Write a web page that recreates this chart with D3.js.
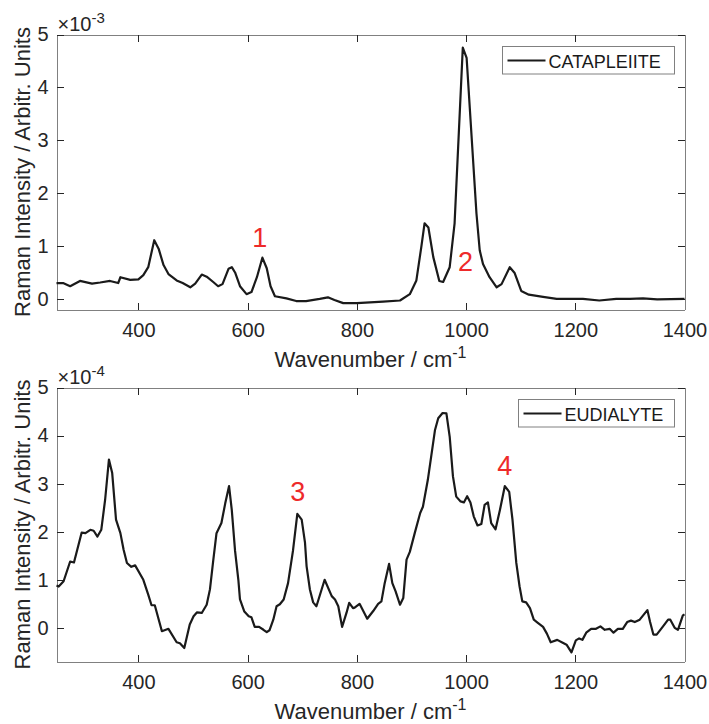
<!DOCTYPE html>
<html>
<head>
<meta charset="utf-8">
<script src="https://cdn.jsdelivr.net/npm/d3@7"></script>
<style>
  body { margin: 0; background: #fff; }
  text { font-family: "Liberation Sans", Arial, sans-serif; }
</style>
</head>
<body>
<div id="chart"></div>
<script>
// wavenumber ticks shared by both panels
var xTicks = [400, 600, 800, 1000, 1200, 1400];
var yTicks = [0, 1, 2, 3, 4, 5];

// CATAPLEIITE spectrum (intensity x 1e-3)
var cataWave = [250, 262, 275, 293, 315, 330, 348, 363, 367, 385, 400, 409, 418, 429, 437, 446, 455, 470, 481, 495,
    504, 516, 525, 537, 546, 554, 565, 571, 577, 586, 598, 607, 617, 627, 635, 642, 650, 671, 689, 707,
    732, 747, 759, 775, 800, 848, 879, 897, 909, 918, 924, 931, 940, 951, 958, 970, 979, 994, 1001, 1019,
    1025, 1031, 1043, 1056, 1065, 1080, 1089, 1101, 1115, 1141, 1166, 1214, 1244, 1275, 1300, 1324, 1350, 1400];
var cataInt = [0.30, 0.30, 0.24, 0.34, 0.29, 0.31, 0.34, 0.30, 0.41, 0.36, 0.37, 0.45, 0.60, 1.11, 0.95, 0.64, 0.47, 0.35, 0.30, 0.22,
    0.29, 0.46, 0.42, 0.32, 0.24, 0.28, 0.57, 0.60, 0.50, 0.24, 0.09, 0.13, 0.41, 0.78, 0.58, 0.24, 0.05, 0.01, -0.04, -0.04,
    0.00, 0.03, -0.02, -0.08, -0.08, -0.05, -0.03, 0.09, 0.35, 0.98, 1.43, 1.35, 0.79, 0.34, 0.32, 0.60, 1.43, 4.75, 4.56, 1.62,
    0.92, 0.66, 0.41, 0.22, 0.28, 0.60, 0.49, 0.15, 0.08, 0.04, 0.00, 0.00, -0.03, 0.00, 0.00, 0.01, -0.01, 0.00];

// EUDIALYTE spectrum (intensity x 1e-4)
var eudiWave = [250, 254, 263, 275, 282, 296, 303, 312, 318, 325, 332, 339, 346, 352, 359, 367, 373, 379, 387, 394,
    409, 418, 424, 430, 443, 455, 470, 476, 484, 494, 501, 507, 516, 525, 531, 537, 543, 552, 559, 566,
    571, 577, 583, 586, 594, 602, 607, 613, 621, 629, 635, 640, 647, 653, 659, 666, 674, 683, 691, 699,
    705, 708, 714, 720, 726, 741, 754, 760, 766, 773, 781, 786, 793, 796, 805, 819, 830, 839, 845, 851,
    859, 865, 871, 879, 885, 891, 897, 906, 916, 921, 930, 943, 949, 957, 964, 970, 976, 982, 990, 996,
    1002, 1008, 1014, 1021, 1028, 1034, 1040, 1046, 1054, 1062, 1071, 1079, 1085, 1092, 1098, 1103, 1110, 1117, 1124, 1132,
    1141, 1148, 1155, 1167, 1177, 1184, 1193, 1201, 1207, 1213, 1220, 1229, 1238, 1246, 1254, 1263, 1270, 1278, 1287, 1295,
    1302, 1309, 1318, 1332, 1337, 1343, 1349, 1360, 1370, 1374, 1382, 1388, 1397, 1400];
var eudiInt = [0.88, 0.86, 0.97, 1.38, 1.36, 1.98, 1.97, 2.04, 2.02, 1.90, 2.04, 2.66, 3.50, 3.22, 2.25, 1.97, 1.62, 1.35, 1.27, 1.30,
    1.00, 0.69, 0.47, 0.47, -0.07, -0.02, -0.30, -0.32, -0.42, 0.07, 0.24, 0.32, 0.31, 0.48, 0.80, 1.40, 1.97, 2.18, 2.59, 2.95,
    2.45, 1.60, 1.00, 0.59, 0.34, 0.24, 0.22, 0.02, 0.02, -0.04, -0.09, -0.05, 0.17, 0.45, 0.49, 0.59, 0.93, 1.60, 2.37, 2.25,
    1.78, 1.28, 0.80, 0.53, 0.45, 1.00, 0.66, 0.59, 0.45, 0.02, 0.31, 0.52, 0.41, 0.42, 0.50, 0.19, 0.35, 0.50, 0.55, 0.93,
    1.33, 0.93, 0.76, 0.48, 0.62, 1.42, 1.58, 1.97, 2.39, 2.52, 3.08, 4.11, 4.36, 4.47, 4.46, 3.98, 3.15, 2.73, 2.63, 2.61,
    2.74, 2.61, 2.32, 2.13, 2.16, 2.56, 2.61, 2.18, 2.05, 2.45, 2.95, 2.83, 2.25, 1.35, 0.86, 0.55, 0.53, 0.41, 0.17, 0.10,
    0.02, -0.12, -0.30, -0.25, -0.31, -0.35, -0.51, -0.26, -0.22, -0.25, -0.10, -0.02, -0.02, 0.03, -0.04, -0.02, -0.10, -0.02, -0.02, 0.12,
    0.15, 0.12, 0.17, 0.37, 0.12, -0.14, -0.14, 0.02, 0.17, 0.17, 0.00, -0.04, 0.26, 0.28];

// peak numbers: [wavenumber, intensity at baseline, label]
var cataPeaks = [[622, 0.98, "1"], [999, 0.53, "2"]];
var eudiPeaks = [[692, 2.63, "3"], [1071, 3.19, "4"]];

var width = 709, height = 724;
var svg = d3.select("#chart").append("svg")
    .attr("width", width)
    .attr("height", height);

var left = 56.5, right = 684.5;
var axisColor = "#262626", boxColor = "#808080";

function drawPanel(top, bottom, wave, inten, yMin, expo, name, legendW, peaks) {
    var x = d3.scaleLinear().domain([250, 1400]).range([left, right]);
    var y = d3.scaleLinear().domain([yMin, 5]).range([bottom, top]);
    var g = svg.append("g");

    g.append("g").attr("transform", "translate(0," + bottom + ")")
        .call(d3.axisBottom(x).tickValues(xTicks).tickFormat(d3.format("d"))
            .tickSizeInner(-7).tickSizeOuter(0).tickPadding(13));
    g.append("g").attr("transform", "translate(0," + top + ")")
        .call(d3.axisTop(x).tickValues(xTicks).tickSizeInner(-7).tickSizeOuter(0).tickFormat(""));
    g.append("g").attr("transform", "translate(" + left + ",0)")
        .call(d3.axisLeft(y).tickValues(yTicks).tickFormat(d3.format("d"))
            .tickSizeInner(-7).tickSizeOuter(0).tickPadding(8));
    g.append("g").attr("transform", "translate(" + right + ",0)")
        .call(d3.axisRight(y).tickValues(yTicks).tickSizeInner(-7).tickSizeOuter(0).tickFormat(""));

    g.selectAll(".domain").attr("stroke", boxColor).attr("shape-rendering", "crispEdges");
    g.selectAll(".tick line").attr("stroke", axisColor).attr("shape-rendering", "crispEdges");
    g.selectAll(".tick text").attr("fill", axisColor).style("font-size", "20px");

    var line = d3.line()
        .x(function (d, i) { return x(wave[i]); })
        .y(function (d) { return y(d); });
    g.append("path")
        .datum(inten)
        .attr("fill", "none")
        .attr("stroke", "#1a1a1a")
        .attr("stroke-width", 2.2)
        .attr("stroke-linejoin", "round")
        .attr("d", line);

    // exponent label
    var ex = g.append("text")
        .attr("x", left + 1)
        .attr("y", top - 4)
        .attr("fill", axisColor)
        .style("font-size", "20px");
    ex.append("tspan").text("\u00d710");
    ex.append("tspan").attr("dy", -8).style("font-size", "15px").text("-" + expo);

    // legend
    var lx = right - 11 - legendW, ly = top + 11.5;
    g.append("rect")
        .attr("x", Math.round(lx) + 0.5).attr("y", Math.round(ly) + 0.5)
        .attr("width", legendW).attr("height", 27.5)
        .attr("fill", "#fff").attr("stroke", boxColor);
    g.append("line")
        .attr("x1", lx + 6).attr("x2", lx + 44)
        .attr("y1", ly + 14.5).attr("y2", ly + 14.5)
        .attr("stroke", "#1a1a1a").attr("stroke-width", 2);
    g.append("text")
        .attr("x", lx + 47).attr("y", ly + 21.5)
        .attr("fill", "#1a1a1a")
        .style("font-size", "18px")
        .text(name);

    g.selectAll(".peak")
        .data(peaks)
        .enter().append("text")
        .attr("class", "peak")
        .attr("x", function (d) { return x(d[0]); })
        .attr("y", function (d) { return y(d[1]); })
        .attr("text-anchor", "middle")
        .attr("fill", "#ee2a2a")
        .style("font-size", "27px")
        .text(function (d) { return d[2]; });

    // axis titles
    var xl = g.append("text")
        .attr("x", (left + right) / 2)
        .attr("y", bottom + 57)
        .attr("text-anchor", "middle")
        .attr("fill", axisColor)
        .style("font-size", "22px");
    xl.append("tspan").text("Wavenumber / cm");
    xl.append("tspan").attr("dy", -9).style("font-size", "16px").text("-1");

    g.append("text")
        .attr("transform", "translate(30," + ((top + bottom) / 2) + ") rotate(-90)")
        .attr("text-anchor", "middle")
        .attr("fill", axisColor)
        .style("font-size", "22px")
        .text("Raman Intensity / Arbitr. Units");
}

drawPanel(34.5, 309.5, cataWave, cataInt, -0.2, 3, "CATAPLEIITE", 172, cataPeaks);
drawPanel(387.5, 661.5, eudiWave, eudiInt, -0.7, 4, "EUDIALYTE", 156, eudiPeaks);
</script>
</body>
</html>
